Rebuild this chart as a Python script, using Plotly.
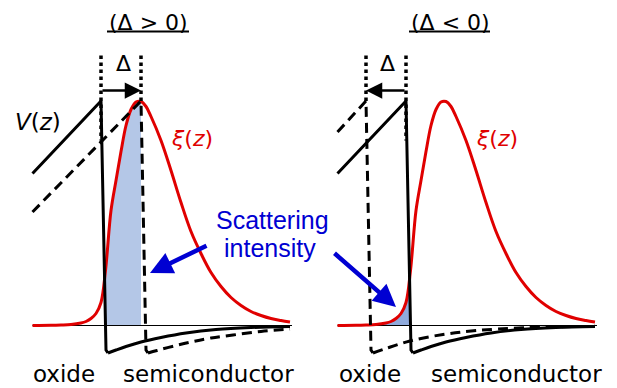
import plotly.graph_objects as go

W, H = 617, 388

# xi(z): electron envelope function (same in both panels), z in units of 10 px
xi_z = [-6.85, -5.0, -4.0, -3.0, -2.0, -1.5, -1.0, -0.5, 0.0, 0.45, 1.0, 1.5,
        2.0, 2.5, 3.0, 3.5, 4.0, 4.5, 5.0, 6.0, 7.0, 8.0, 9.0, 10.0, 11.0, 12.0,
        13.0, 14.0, 15.0, 16.0, 17.0, 18.0, 18.9]
xi_v = [0.0, 0.02, 0.05, 0.1, 0.25, 0.4, 0.7, 1.2, 2.3, 5.5, 11.5, 14.5,
        17.4, 20.0, 21.6, 22.35, 22.4, 21.9, 20.9, 18.5, 15.5, 12.3, 9.4, 7.2, 5.3, 3.9,
        2.8, 2.0, 1.4, 1.0, 0.7, 0.5, 0.35]

# solid V(z): oxide ramp + interface wall, then semiconductor tail
sol_ramp_z = [-6.85, 0.0, 0.5, 0.7]
sol_ramp_v = [15.2, 22.45, -2.45, -2.75]
sol_tail_z = [0.7, 1.5, 2.5, 4.0, 6.0, 8.5, 11.5, 15.0, 18.9]
sol_tail_v = [-2.75, -2.45, -2.1, -1.65, -1.2, -0.75, -0.4, -0.2, -0.1]

# dashed V(z) shifted by +Delta (left panel)
dl_ramp_z = [-6.85, 4.0, 4.5, 4.7]
dl_ramp_v = [11.35, 22.45, -2.45, -2.75]
dl_tail_z = [4.7, 5.6, 7.5, 9.2, 11.0, 13.2, 16.0, 18.9]
dl_tail_v = [-2.75, -2.5, -2.0, -1.6, -1.25, -0.95, -0.6, -0.35]

# dashed V(z) shifted by -|Delta| (right panel)
dr_ramp_z = [-6.85, -4.0, -3.5, -3.3]
dr_ramp_v = [19.35, 22.45, -2.45, -2.75]
dr_tail_z = [-3.3, -2.0, 0.4, 3.7, 7.1, 12.0, 18.9]
dr_tail_v = [-2.75, -2.3, -1.55, -0.9, -0.5, -0.22, -0.08]

deltas = [4.0, -4.0]
titles = ["(Δ > 0)", "(Δ < 0)"]
fill_ranges = [(0.45, 4.0), (-4.0, 0.45)]
fill_colors = ["#b4c7e7", "#8faadc"]
baseline_z = [-6.85, 19.1]
dot_top = 27.0
arrow_v = 23.5

RED = "#e00000"
BLUE = "#0000d2"
BLACK = "#000000"

fig = go.Figure()

dashed = [(dl_ramp_z, dl_ramp_v, dl_tail_z, dl_tail_v),
          (dr_ramp_z, dr_ramp_v, dr_tail_z, dr_tail_v)]

for i, (xa, ya) in enumerate([("x", "y"), ("x2", "y2")]):
    d = deltas[i]
    a, b = fill_ranges[i]
    fz = [z for z in xi_z if a <= z <= b]
    fv = [v for z, v in zip(xi_z, xi_v) if a <= z <= b]
    kw = dict(xaxis=xa, yaxis=ya, hoverinfo="skip", showlegend=False)
    # shaded overlap (scattering intensity)
    fig.add_trace(go.Scatter(x=fz, y=fv, mode="lines", line=dict(width=0, shape="spline"),
                             fill="tozeroy", fillcolor=fill_colors[i], **kw))
    # zero line
    fig.add_trace(go.Scatter(x=baseline_z, y=[0, 0], mode="lines",
                             line=dict(color=BLACK, width=1), **kw))
    # xi(z)
    fig.add_trace(go.Scatter(x=xi_z, y=xi_v, mode="lines",
                             line=dict(color=RED, width=3, shape="spline", smoothing=1.0), **kw))
    # dotted guides at interface and at shifted interface
    fig.add_trace(go.Scatter(x=[0, 0], y=[dot_top, 18.5], mode="lines",
                             line=dict(color=BLACK, width=3.5, dash="dot"), **kw))
    fig.add_trace(go.Scatter(x=[d, d], y=[dot_top, 22.45], mode="lines",
                             line=dict(color=BLACK, width=3.5, dash="dot"), **kw))
    # solid V(z)
    fig.add_trace(go.Scatter(x=sol_ramp_z, y=sol_ramp_v, mode="lines",
                             line=dict(color=BLACK, width=3), **kw))
    fig.add_trace(go.Scatter(x=sol_tail_z, y=sol_tail_v, mode="lines",
                             line=dict(color=BLACK, width=3, shape="spline"), **kw))
    # dashed (shifted) V(z)
    rz, rv, tz, tv = dashed[i]
    fig.add_trace(go.Scatter(x=rz, y=rv, mode="lines",
                             line=dict(color=BLACK, width=3, dash="10px,6px"), **kw))
    fig.add_trace(go.Scatter(x=tz, y=tv, mode="lines",
                             line=dict(color=BLACK, width=3, dash="10px,6px", shape="spline"), **kw))
    # Delta arrow
    fig.add_annotation(x=d, y=arrow_v, ax=0, ay=arrow_v, xref=xa, yref=ya,
                       axref=xa, ayref=ya, text="", showarrow=True, arrowhead=2,
                       arrowsize=1.3, arrowwidth=2.5, arrowcolor=BLACK, standoff=0)


def px(x):
    return x / W


def py(y):
    return 1 - y / H


def label(text, x, y, size, color=BLACK, family="DejaVu Sans"):
    fig.add_annotation(x=px(x), y=py(y), xref="paper", yref="paper", text=text,
                       showarrow=False, xanchor="center", yanchor="middle",
                       font=dict(family=family, size=size, color=color))


label(titles[0], 148, 22, 22)
label(titles[1], 450, 22, 22)
for x0, x1 in [(107, 189), (409, 490)]:
    fig.add_shape(type="line", xref="paper", yref="paper", x0=px(x0), x1=px(x1),
                  y0=py(31.5), y1=py(31.5), line=dict(color=BLACK, width=2))
label("Δ", 123, 64, 22)
label("Δ", 387, 64, 22)
label("<i>V</i>(<i>z</i>)", 38, 122, 23)
label("<i>ξ</i>(<i>z</i>)", 192, 138, 22, RED)
label("<i>ξ</i>(<i>z</i>)", 497, 138, 22, RED)
label("Scattering", 272, 220, 25, BLUE, "Liberation Sans")
label("intensity", 270, 248, 25, BLUE, "Liberation Sans")
label("oxide", 64, 374, 23)
label("semiconductor", 208, 374, 23)
label("oxide", 370, 374, 23)
label("semiconductor", 516, 374, 23)

# arrows pointing at the shaded regions
for (tx, ty), (sx, sy) in [((150, 273), (208, 245)), ((396, 307), (333, 252))]:
    fig.add_annotation(x=px(tx), y=py(ty), xref="paper", yref="paper", ax=sx - tx, ay=sy - ty,
                       text="", showarrow=True, arrowhead=2, arrowsize=1.0, arrowwidth=4.5,
                       arrowcolor=BLUE, standoff=0)

axis_off = dict(visible=False, showgrid=False, zeroline=False, fixedrange=True)
fig.update_layout(
    width=W, height=H, margin=dict(l=0, r=0, t=0, b=0),
    paper_bgcolor="white", plot_bgcolor="white",
    xaxis=dict(domain=[0, 0.5], range=[-10.1, 20.75], **axis_off),
    xaxis2=dict(domain=[0.5, 1], range=[-9.75, 21.1], **axis_off),
    yaxis=dict(domain=[0, 1], range=[-6.25, 32.55], **axis_off),
    yaxis2=dict(domain=[0, 1], range=[-6.25, 32.55], anchor="x2", **axis_off),
)

fig.write_html("out.html")
